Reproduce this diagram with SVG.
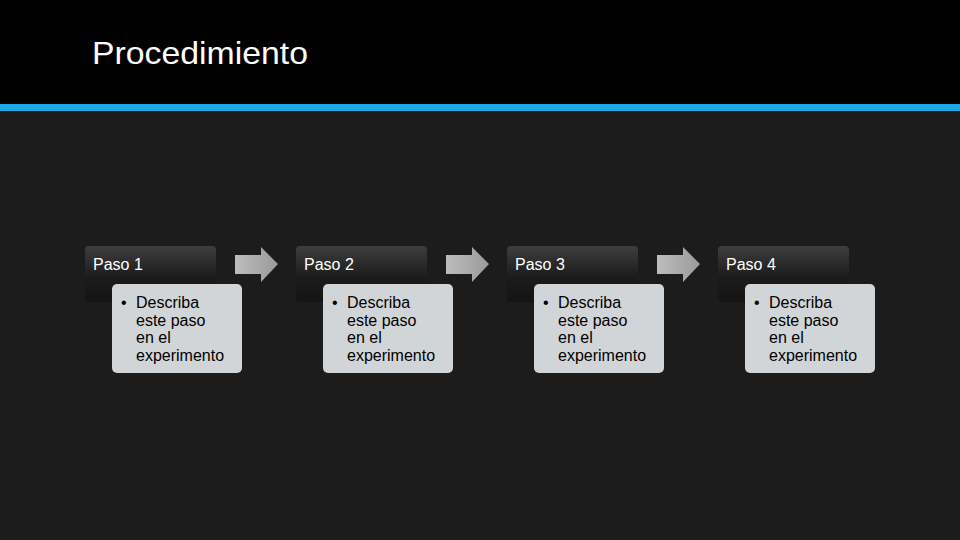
<svg xmlns="http://www.w3.org/2000/svg" width="960" height="540" viewBox="0 0 960 540">
<defs>
<linearGradient id="hdr" x1="0" y1="0" x2="0" y2="1">
<stop offset="0" stop-color="#3e3e3e"/>
<stop offset="0.55" stop-color="#1c1c1c"/>
<stop offset="1" stop-color="#141414"/>
</linearGradient>
<linearGradient id="arr" x1="0" y1="0" x2="1" y2="0">
<stop offset="0" stop-color="#bdbdbd"/>
<stop offset="1" stop-color="#9a9a9a"/>
</linearGradient>
<path id="arrow" d="M0,8 H26 V0 L43,17 L26,35 V27 H0 Z" fill="url(#arr)"/>
</defs>
<style>
.h{fill:url(#hdr)}
.b{fill:#d2d5d7}
.ht{font-family:"Liberation Sans",Arial,sans-serif;font-size:16px;fill:#ffffff}
.bt{font-family:"Liberation Sans",Arial,sans-serif;font-size:16px;fill:#000000}
</style>
<rect width="960" height="540" fill="#1c1c1c"/>
<rect width="960" height="104" fill="#000000"/>
<rect y="104" width="960" height="7" fill="#1aa9e1"/>
<text x="92" y="64" font-family="Liberation Sans, Arial, sans-serif" font-size="32" fill="#ffffff" textLength="216" lengthAdjust="spacingAndGlyphs">Procedimiento</text>

<g id="connectors">
<use href="#arrow" x="235" y="247"/>
<use href="#arrow" x="446" y="247"/>
<use href="#arrow" x="657" y="247"/>
</g>

<g id="step1">
<rect class="h" x="85" y="246" width="131" height="56" rx="4"/>
<text class="ht" x="93" y="270">Paso 1</text>
<rect class="b" x="112" y="284" width="130" height="89" rx="5"/>
<text class="bt"><tspan x="121" y="308">•</tspan><tspan x="136" y="308">Describa</tspan><tspan x="136" y="326">este paso</tspan><tspan x="136" y="343">en el</tspan><tspan x="136" y="361">experimento</tspan></text>
</g>
<g id="step2">
<rect class="h" x="296" y="246" width="131" height="56" rx="4"/>
<text class="ht" x="304" y="270">Paso 2</text>
<rect class="b" x="323" y="284" width="130" height="89" rx="5"/>
<text class="bt"><tspan x="332" y="308">•</tspan><tspan x="347" y="308">Describa</tspan><tspan x="347" y="326">este paso</tspan><tspan x="347" y="343">en el</tspan><tspan x="347" y="361">experimento</tspan></text>
</g>
<g id="step3">
<rect class="h" x="507" y="246" width="131" height="56" rx="4"/>
<text class="ht" x="515" y="270">Paso 3</text>
<rect class="b" x="534" y="284" width="130" height="89" rx="5"/>
<text class="bt"><tspan x="543" y="308">•</tspan><tspan x="558" y="308">Describa</tspan><tspan x="558" y="326">este paso</tspan><tspan x="558" y="343">en el</tspan><tspan x="558" y="361">experimento</tspan></text>
</g>
<g id="step4">
<rect class="h" x="718" y="246" width="131" height="56" rx="4"/>
<text class="ht" x="726" y="270">Paso 4</text>
<rect class="b" x="745" y="284" width="130" height="89" rx="5"/>
<text class="bt"><tspan x="754" y="308">•</tspan><tspan x="769" y="308">Describa</tspan><tspan x="769" y="326">este paso</tspan><tspan x="769" y="343">en el</tspan><tspan x="769" y="361">experimento</tspan></text>
</g>
</svg>
